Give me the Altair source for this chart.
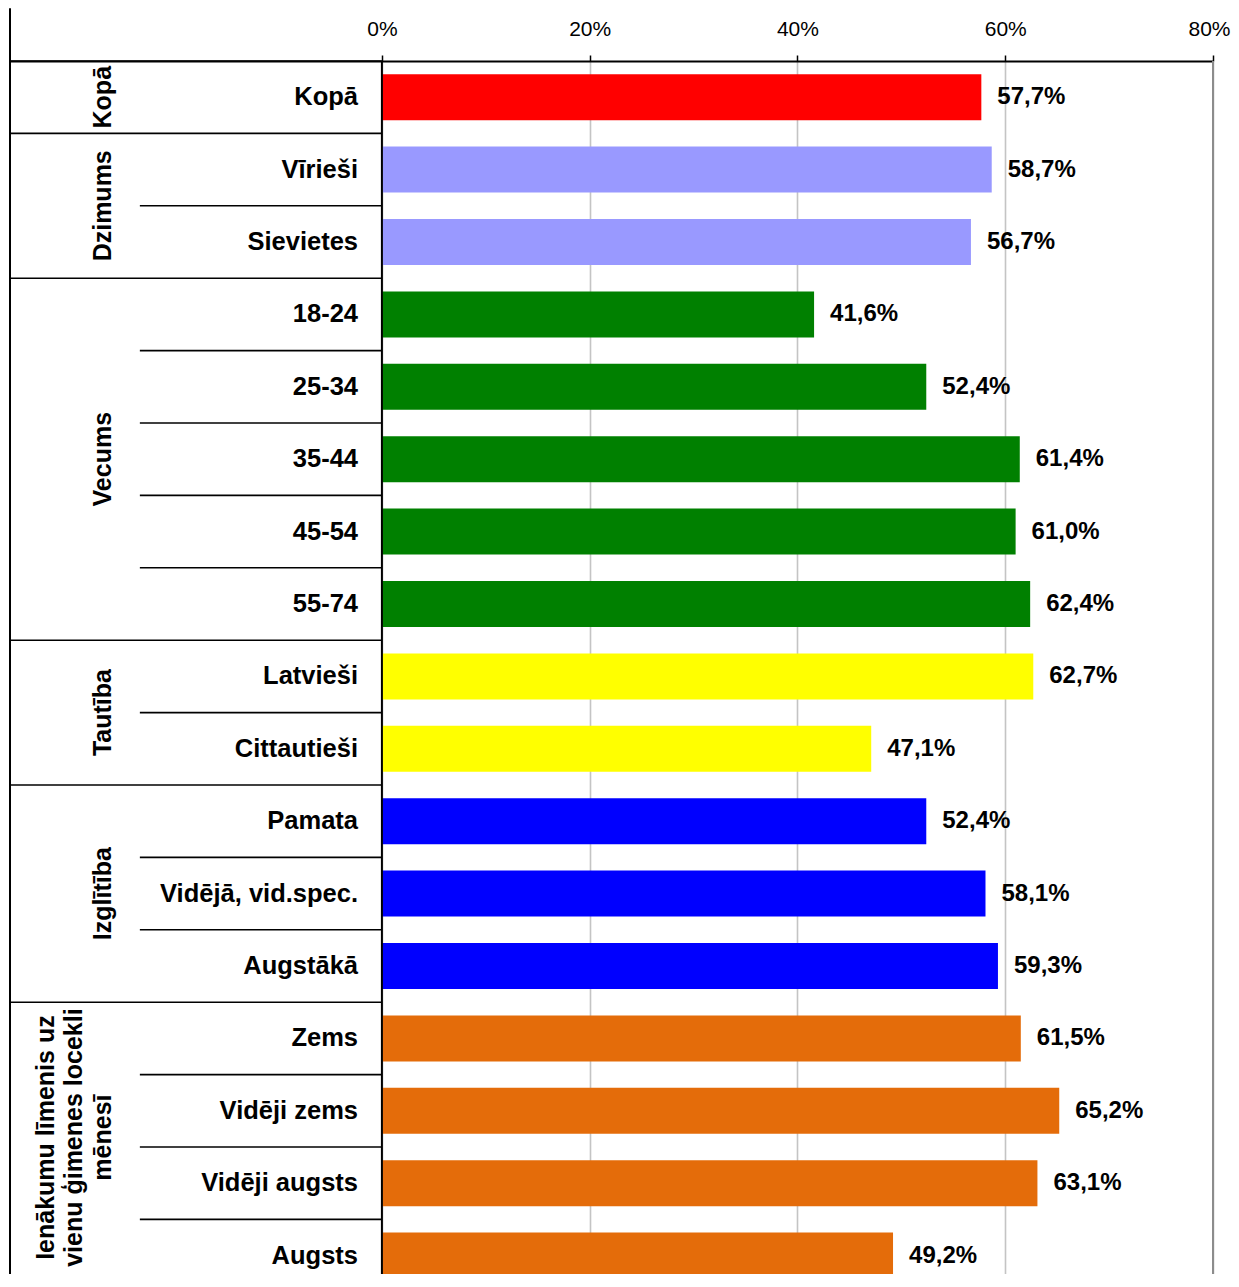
import altair as alt
import pandas as pd

# ---- data ----
groups = ["Kopā", "Dzimums", "Vecums", "Tautība", "Izglītība", "Ienākumi"]
group_titles = ["Kopā", "Dzimums", "Vecums", "Tautība", "Izglītība",
                "Ienākumu līmenis uz\nvienu ģimenes locekli\nmēnesī"]
group_sizes = [1, 2, 5, 2, 3, 4]
group_colors = ["#FF0000", "#9999FF", "#008000", "#FFFF00", "#0000FF", "#E46C0A"]

categories = ["Kopā", "Vīrieši", "Sievietes", "18-24", "25-34", "35-44", "45-54",
              "55-74", "Latvieši", "Cittautieši", "Pamata", "Vidējā, vid.spec.",
              "Augstākā", "Zems", "Vidēji zems", "Vidēji augsts", "Augsts"]
values = [57.7, 58.7, 56.7, 41.6, 52.4, 61.4, 61.0, 62.4, 62.7, 47.1, 52.4, 58.1,
          59.3, 61.5, 65.2, 63.1, 49.2]
tick_values = [0, 20, 40, 60, 80]

# ---- tables built from the lists ----
cat_group = []
for g, n in zip(groups, group_sizes):
    cat_group += [g] * n
bars = pd.DataFrame({
    "category": categories,
    "group": cat_group,
    "value": values,
    "row": [i + 0.5 for i in range(len(categories))],
    "label": [f"{v:.1f}%".replace(".", ",") for v in values],
})

LEFT = -35.8      # left border of the table, in axis units
INNER = -23.3     # start of the inner separators
CAT_X = -2.3      # right edge of category labels
GRP_X = -25.6     # anchor of the rotated group labels
LINE_H = 28.5     # line height of the group labels (px)
PX_PER_UNIT = 1203 / (80 - LEFT)
Y_END = 16.754

starts = []
s = 0
for n in group_sizes:
    starts.append(s)
    s += n
n_lines = [t.count("\n") + 1 for t in group_titles]
centers = [st + n / 2 for st, n in zip(starts, group_sizes)]
# keep the long, wrapped last label inside the visible page
centers[-1] -= 0.13
glabels = pd.DataFrame({
    "title": group_titles,
    "center": centers,
    "gx": [GRP_X - (k - 1) * LINE_H / PX_PER_UNIT for k in n_lines],
})

seps = pd.DataFrame({
    "y": list(range(len(categories))),
    "x0": [LEFT if i in starts else INNER for i in range(len(categories))],
})
vlines = pd.DataFrame({"x": [0, LEFT], "y0": [0, -0.73], "y1": [Y_END, Y_END]})
lastgrid = pd.DataFrame({"x": [tick_values[-1]], "y0": [0], "y1": [Y_END]})

FONT = "Liberation Sans, Arial, sans-serif"
xscale = alt.Scale(domain=[LEFT, 80], nice=False, zero=False, padding=0)
yscale = alt.Scale(domain=[0, Y_END], reverse=True, nice=False, zero=False, padding=0)

xaxis = alt.Axis(
    orient="top", values=tick_values, title=None,
    labelExpr="datum.value + '%'", labelFont=FONT, labelFontSize=21,
    labelColor="black", labelPadding=16, labelFlush=True, labelFlushOffset=17,
    tickSize=6, tickColor="black", tickWidth=1.5,
    domainColor="black", domainWidth=2,
    grid=True, gridColor="#c4c4c4", gridWidth=1.6,
)


def X(*args, **kw):
    return alt.X(*args, scale=xscale, axis=xaxis, **kw)


def Y(*args, **kw):
    return alt.Y(*args, scale=yscale, axis=None, **kw)


bar_layer = alt.Chart(bars).mark_bar(size=46, orient="horizontal").encode(
    x=X("value:Q"),
    x2=alt.datum(0),
    y=Y("row:Q"),
    color=alt.Color("group:N", scale=alt.Scale(domain=groups, range=group_colors),
                    legend=None),
)

value_layer = alt.Chart(bars).mark_text(
    align="left", baseline="middle", dx=16, font=FONT, fontSize=24,
    fontWeight="bold", color="black"
).encode(
    x=X("value:Q"),
    y=Y("row:Q"),
    text="label:N",
)

cat_layer = alt.Chart(bars).mark_text(
    align="right", baseline="middle", font=FONT, fontSize=25.5,
    fontWeight="bold", color="black"
).encode(
    x=X(datum=CAT_X),
    y=Y("row:Q"),
    text="category:N",
)

grp_layer = alt.Chart(glabels).mark_text(
    align="center", baseline="bottom", angle=270, font=FONT, fontSize=25,
    fontWeight="bold", color="black", lineBreak="\n", lineHeight=LINE_H
).encode(
    x=X("gx:Q"),
    y=Y("center:Q"),
    text="title:N",
)

sep_layer = alt.Chart(seps).mark_rule(color="black", strokeWidth=1.6).encode(
    x=X("x0:Q"),
    x2=alt.datum(0),
    y=Y("y:Q"),
)

grid80_layer = alt.Chart(lastgrid).mark_rule(color="#8c8c8c", strokeWidth=2).encode(
    x=X("x:Q"),
    y=Y("y0:Q"),
    y2="y1:Q",
)

vline_layer = alt.Chart(vlines).mark_rule(color="black", strokeWidth=2).encode(
    x=X("x:Q"),
    y=Y("y0:Q"),
    y2="y1:Q",
)

chart = alt.layer(
    grid80_layer, bar_layer, value_layer, cat_layer, grp_layer, sep_layer, vline_layer
).properties(
    width=1203, height=1213,
    padding={"left": 2, "top": 53, "right": 18, "bottom": 0},
    autosize=alt.AutoSizeParams(type="none"),
).configure_view(stroke=None)

chart.save("out.html", embed_options={"renderer": "svg", "actions": False})
